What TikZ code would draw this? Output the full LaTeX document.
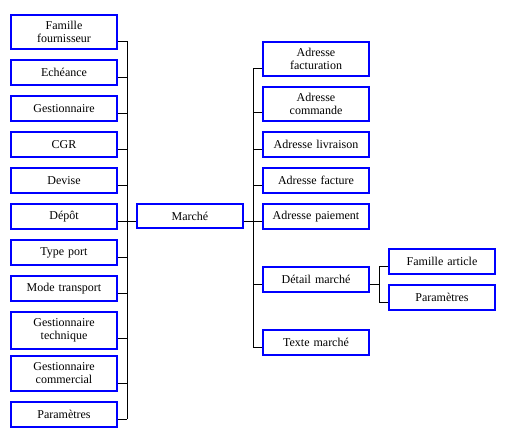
\documentclass[tikz,border=0pt]{standalone}
\usepackage{fontspec}
\setmainfont{Liberation Serif}
\usepackage{xcolor}
\usepackage{tikz}
\usetikzlibrary{positioning}

\tikzset{
  boite/.style={draw=blue, line width=2pt, minimum width=106pt, minimum height=25pt,
    text width=100pt, align=center, inner sep=0pt, font=\fontsize{12}{13}\selectfont},
  lien/.style={black, line width=1pt}
}

\begin{document}
\begin{tikzpicture}[x=1pt,y=-1pt]
  \useasboundingbox (0,0) rectangle (509,437);
  % colonne de gauche
  \node[boite,minimum height=34pt] (famfour) at (64,32) {Famille\\fournisseur};
  \node[boite] (echeance) at (64,72.5) {Echéance};
  \node[boite] (gest) at (64,108.5) {Gestionnaire};
  \node[boite] (cgr) at (64,144.5) {CGR};
  \node[boite] (devise) at (64,180.5) {Devise};
  \node[boite] (depot) at (64,216.5) {Dépôt};
  \node[boite] (typeport) at (64,252.5) {Type port};
  \node[boite] (modetr) at (64,288.5) {Mode transport};
  \node[boite,minimum height=37pt] (gesttech) at (64,330.5) {Gestionnaire\\technique};
  \node[boite,minimum height=35pt] (gestcom) at (64,373.5) {Gestionnaire\\commercial};
  \node[boite] (paramg) at (64,414.5) {Paramètres};
  % centre
  \node[boite,minimum height=24pt] (marche) at (190,216) {Marché};
  % colonne de droite
  \node[boite,minimum height=34pt] (adrfactu) at (316,58.7) {Adresse\\facturation};
  \node[boite,minimum height=34pt] (adrcde) at (316,103.8) {Adresse\\commande};
  \node[boite] (adrliv) at (316,144.3) {Adresse livraison};
  \node[boite] (adrfact) at (316,180.3) {Adresse facture};
  \node[boite] (adrpai) at (316,216.3) {Adresse paiement};
  \node[boite] (detail) at (316,279.2) {Détail marché};
  \node[boite] (texte) at (316,342.3) {Texte marché};
  \node[boite] (famart) at (442,261.5) {Famille article};
  \node[boite] (paramd) at (442,297.3) {Paramètres};

  % liens de gauche
  \foreach \n/\d in {famfour/9,echeance/4.5,gest/4.5,cgr/4.5,devise/4.5,typeport/4.5,modetr/4.5,gesttech/7.5,gestcom/9.5,paramg/4.5}
    \draw[lien] ([yshift=-\d pt]\n.east) -- ++(9,0);
  \draw[lien] ([yshift=-4.5pt]depot.east) -- ([yshift=-5pt]marche.west);
  \draw[lien] ([xshift=9pt,yshift=-9pt]famfour.east) -- ([xshift=9pt,yshift=-4.5pt]paramg.east);

  % liens de droite
  \draw[lien] ([yshift=-5pt]marche.east) -- ([yshift=-4.7pt]adrpai.west);
  \foreach \n/\d in {adrfactu/9.6,adrcde/8.9,adrliv/4.7,adrfact/5,detail/5,texte/4.7}
    \draw[lien] ([yshift=-\d pt]\n.west) -- ++(-9,0);
  \draw[lien] ([xshift=-9pt,yshift=-9.6pt]adrfactu.west) -- ([xshift=-9pt,yshift=-4.7pt]texte.west);

  % sous-niveau
  \draw[lien] ([yshift=-5pt]detail.east) -- ++(9,0);
  \foreach \n/\d in {famart/5.2,paramd/4.7}
    \draw[lien] ([yshift=-\d pt]\n.west) -- ++(-9,0);
  \draw[lien] ([xshift=-9pt,yshift=-5.2pt]famart.west) -- ([xshift=-9pt,yshift=-4.7pt]paramd.west);
\end{tikzpicture}
\end{document}
